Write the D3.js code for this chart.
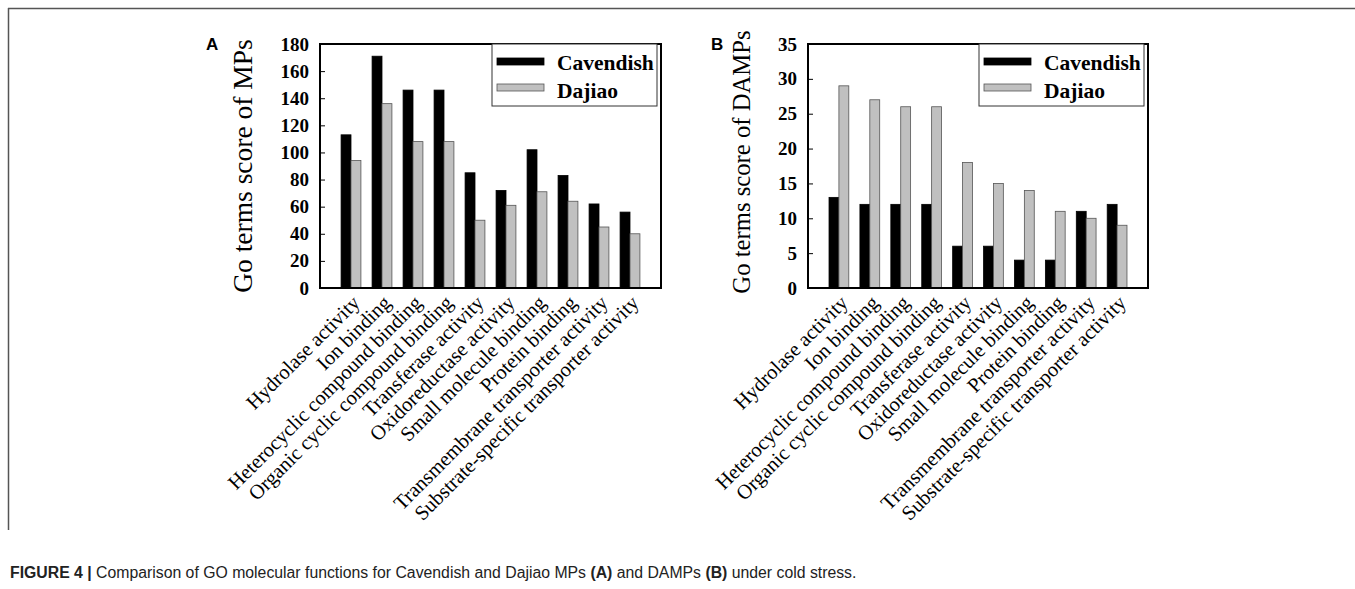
<!DOCTYPE html>
<html>
<head>
<meta charset="utf-8">
<script src="https://cdn.jsdelivr.net/npm/d3@7"></script>
<style>
  html, body { margin: 0; padding: 0; background: #fff; }
  svg { display: block; }
</style>
</head>
<body>
<svg id="fig" width="1355" height="589"></svg>
<script>
// GO molecular function categories shared by both panels
const categories = [
  "Hydrolase activity",
  "Ion binding",
  "Heterocyclic compound binding",
  "Organic cyclic compound binding",
  "Transferase activity",
  "Oxidoreductase activity",
  "Small molecule binding",
  "Protein binding",
  "Transmembrane transporter activity",
  "Substrate-specific transporter activity"
];

// Panel A: GO terms score of MPs
const mpsCavendish = [113, 171, 146, 146, 85, 72, 102, 83, 62, 56];
const mpsDajiao    = [94, 136, 108, 108, 50, 61, 71, 64, 45, 40];
const mpsTicks     = [0, 20, 40, 60, 80, 100, 120, 140, 160, 180];

// Panel B: GO terms score of DAMPs
const dampsCavendish = [13, 12, 12, 12, 6, 6, 4, 4, 11, 12];
const dampsDajiao    = [29, 27, 26, 26, 18, 15, 14, 11, 10, 9];
const dampsTicks     = [0, 5, 10, 15, 20, 25, 30, 35];

const seriesNames = ["Cavendish", "Dajiao"];

const svg = d3.select("#fig");
const serif = "'Liberation Serif', 'Times New Roman', serif";
const sans = "'Liberation Sans', Arial, Helvetica, sans-serif";

// Outer figure border (top and left edges)
svg.append("line").attr("x1", 8).attr("y1", 8.5).attr("x2", 1355).attr("y2", 8.5)
  .attr("stroke", "#555").attr("stroke-width", 1.5);
svg.append("line").attr("x1", 8.5).attr("y1", 8).attr("x2", 8.5).attr("y2", 530)
  .attr("stroke", "#555").attr("stroke-width", 1.5);

function drawPanel(opt) {
  const { x0, x1, y0, y1, cav, daj, ticks, yMax, title, titleX, titleY, titleSize, letter, letterX } = opt;
  const g = svg.append("g");

  const x = d3.scaleLinear().domain([0, categories.length + 1]).range([x0, x1]);
  const y = d3.scaleLinear().domain([0, yMax]).range([y1, y0]);
  const step = x(1) - x(0);
  const bw = step * 0.32;

  // Bars: Cavendish (black) left of the category centre, Dajiao (grey) right
  g.selectAll("rect.cav").data(cav).join("rect")
    .attr("class", "cav")
    .attr("x", (d, i) => x(i + 1) - bw)
    .attr("y", d => y(d))
    .attr("width", bw)
    .attr("height", d => y(0) - y(d))
    .attr("fill", "#000").attr("stroke", "#000").attr("stroke-width", 0.8);

  g.selectAll("rect.daj").data(daj).join("rect")
    .attr("class", "daj")
    .attr("x", (d, i) => x(i + 1))
    .attr("y", d => y(d))
    .attr("width", bw)
    .attr("height", d => y(0) - y(d))
    .attr("fill", "#c0c0c0").attr("stroke", "#555").attr("stroke-width", 0.8);

  // Y axis with inward ticks
  const yAxis = d3.axisLeft(y).tickValues(ticks).tickSize(-5).tickPadding(11);
  const ya = g.append("g").attr("transform", `translate(${x0},0)`).call(yAxis);
  ya.select(".domain").remove();
  ya.selectAll(".tick line").attr("stroke", "#000").attr("stroke-width", 1);
  ya.selectAll(".tick text")
    .attr("font-family", serif).attr("font-weight", "bold")
    .attr("font-size", 19).attr("fill", "#000");

  // Plot frame
  g.append("rect")
    .attr("x", x0).attr("y", y0)
    .attr("width", x1 - x0).attr("height", y1 - y0)
    .attr("fill", "none").attr("stroke", "#000").attr("stroke-width", 2);

  // Category labels, rotated
  g.selectAll("text.cat").data(categories).join("text")
    .attr("class", "cat")
    .attr("transform", (d, i) => `translate(${x(i + 1) + 5},${y1 + 11}) rotate(-45)`)
    .attr("text-anchor", "end")
    .attr("dy", "0.35em")
    .attr("font-family", serif).attr("font-size", 20.5).attr("fill", "#000")
    .text(d => d);

  // Y axis title
  g.append("text")
    .attr("transform", `translate(${titleX},${titleY}) rotate(-90)`)
    .attr("text-anchor", "middle")
    .attr("font-family", serif).attr("font-size", titleSize).attr("fill", "#000")
    .text(title);

  // Legend
  const lx = x1 - 169, ly = y0;
  g.append("rect")
    .attr("x", lx).attr("y", ly).attr("width", 165).attr("height", 62)
    .attr("fill", "#fff").attr("stroke", "#333").attr("stroke-width", 1);
  const fills = ["#000", "#c0c0c0"];
  const strokes = ["#000", "#555"];
  seriesNames.forEach((name, i) => {
    g.append("rect")
      .attr("x", lx + 5).attr("y", ly + 14 + i * 26)
      .attr("width", 47).attr("height", 7)
      .attr("fill", fills[i]).attr("stroke", strokes[i]).attr("stroke-width", 0.8);
    g.append("text")
      .attr("x", lx + 65).attr("y", ly + 26 + i * 28)
      .attr("font-family", serif).attr("font-weight", "bold")
      .attr("font-size", 21.5).attr("fill", "#000")
      .text(name);
  });

  // Panel letter
  svg.append("text")
    .attr("x", letterX).attr("y", 50)
    .attr("font-family", sans).attr("font-weight", "bold")
    .attr("font-size", 17).attr("fill", "#000")
    .text(letter);
}

drawPanel({
  x0: 320, x1: 661, y0: 44, y1: 288,
  cav: mpsCavendish, daj: mpsDajiao, ticks: mpsTicks, yMax: 180,
  title: "Go terms score of MPs", titleX: 252, titleY: 166, titleSize: 27.5,
  letter: "A", letterX: 206
});

drawPanel({
  x0: 808, x1: 1148, y0: 44, y1: 288,
  cav: dampsCavendish, daj: dampsDajiao, ticks: dampsTicks, yMax: 35,
  title: "Go terms score of DAMPs", titleX: 750, titleY: 162, titleSize: 24.7,
  letter: "B", letterX: 711
});

// Figure caption
const cap = svg.append("text")
  .attr("x", 10).attr("y", 578)
  .attr("font-family", sans).attr("font-size", 15.8).attr("fill", "#222");
const parts = [
  ["FIGURE 4 | ", true],
  ["Comparison of GO molecular functions for Cavendish and Dajiao MPs ", false],
  ["(A)", true],
  [" and DAMPs ", false],
  ["(B)", true],
  [" under cold stress.", false]
];
parts.forEach(([t, b]) => {
  cap.append("tspan").attr("font-weight", b ? "bold" : "normal").text(t);
});
</script>
</body>
</html>
